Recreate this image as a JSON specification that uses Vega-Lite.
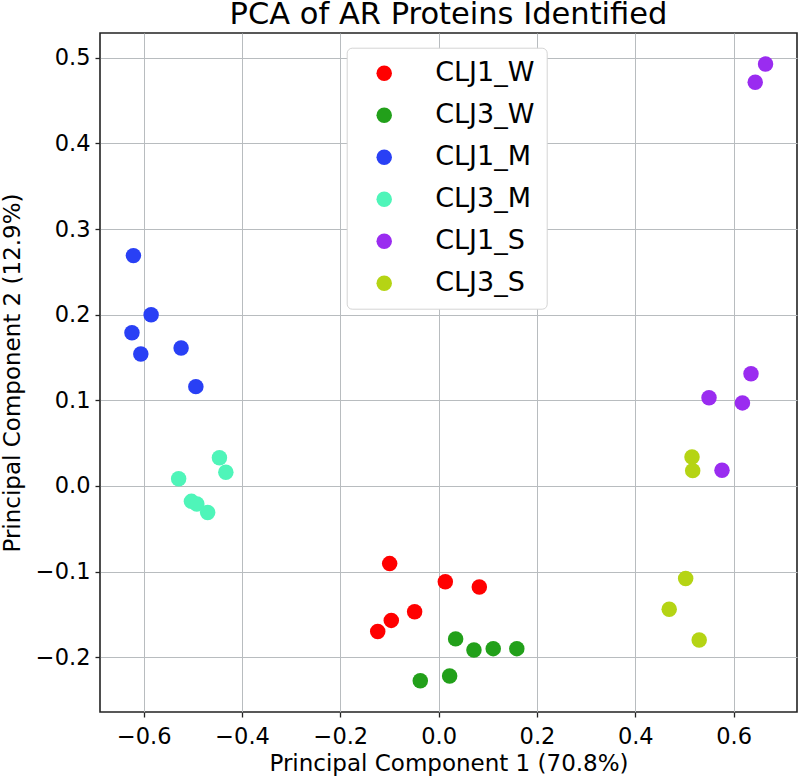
{
  "$schema": "https://vega.github.io/schema/vega-lite/v6.json",
  "width": 697,
  "height": 679,
  "autosize": {"type": "none"},
  "padding": {"left": 100, "top": 33, "right": 1, "bottom": 64},
  "background": "white",
  "title": {
    "text": "PCA of AR Proteins Identified",
    "font": "DejaVu Sans",
    "fontSize": 30.5,
    "fontWeight": "normal",
    "color": "black",
    "anchor": "middle",
    "frame": "group",
    "baseline": "bottom",
    "offset": 3,
    "dy": 30
  },
  "config": {
    "font": "DejaVu Sans",
    "view": {"stroke": "#222222", "strokeWidth": 1.6},
    "axis": {
      "labelFont": "DejaVu Sans",
      "titleFont": "DejaVu Sans",
      "labelFontSize": 22.5,
      "titleFontSize": 23,
      "titleFontWeight": "normal",
      "labelColor": "black",
      "titleColor": "black",
      "domain": false,
      "tickColor": "#222222",
      "tickSize": 5,
      "tickWidth": 1.3,
      "gridColor": "#b8bcbf",
      "gridWidth": 1,
      "gridOpacity": 1
    }
  },
  "data": {
    "values": [
      {"pc1": -0.0997, "pc2": -0.0907, "group": "CLJ1_W"},
      {"pc1": -0.0964, "pc2": -0.157, "group": "CLJ1_W"},
      {"pc1": -0.124, "pc2": -0.170, "group": "CLJ1_W"},
      {"pc1": 0.0135, "pc2": -0.112, "group": "CLJ1_W"},
      {"pc1": 0.0827, "pc2": -0.118, "group": "CLJ1_W"},
      {"pc1": -0.0489, "pc2": -0.147, "group": "CLJ1_W"},
      {"pc1": 0.0345, "pc2": -0.1786, "group": "CLJ3_W"},
      {"pc1": 0.0718, "pc2": -0.1915, "group": "CLJ3_W"},
      {"pc1": 0.111, "pc2": -0.190, "group": "CLJ3_W"},
      {"pc1": 0.159, "pc2": -0.190, "group": "CLJ3_W"},
      {"pc1": 0.0223, "pc2": -0.222, "group": "CLJ3_W"},
      {"pc1": -0.0374, "pc2": -0.2276, "group": "CLJ3_W"},
      {"pc1": -0.621, "pc2": 0.269, "group": "CLJ1_M"},
      {"pc1": -0.585, "pc2": 0.200, "group": "CLJ1_M"},
      {"pc1": -0.624, "pc2": 0.179, "group": "CLJ1_M"},
      {"pc1": -0.606, "pc2": 0.154, "group": "CLJ1_M"},
      {"pc1": -0.524, "pc2": 0.161, "group": "CLJ1_M"},
      {"pc1": -0.494, "pc2": 0.116, "group": "CLJ1_M"},
      {"pc1": -0.529, "pc2": 0.0085, "group": "CLJ3_M"},
      {"pc1": -0.446, "pc2": 0.033, "group": "CLJ3_M"},
      {"pc1": -0.433, "pc2": 0.016, "group": "CLJ3_M"},
      {"pc1": -0.503, "pc2": -0.018, "group": "CLJ3_M"},
      {"pc1": -0.492, "pc2": -0.021, "group": "CLJ3_M"},
      {"pc1": -0.470, "pc2": -0.031, "group": "CLJ3_M"},
      {"pc1": 0.665, "pc2": 0.4927, "group": "CLJ1_S"},
      {"pc1": 0.644, "pc2": 0.4716, "group": "CLJ1_S"},
      {"pc1": 0.6354, "pc2": 0.131, "group": "CLJ1_S"},
      {"pc1": 0.550, "pc2": 0.103, "group": "CLJ1_S"},
      {"pc1": 0.618, "pc2": 0.097, "group": "CLJ1_S"},
      {"pc1": 0.5764, "pc2": 0.0183, "group": "CLJ1_S"},
      {"pc1": 0.5154, "pc2": 0.0339, "group": "CLJ3_S"},
      {"pc1": 0.5168, "pc2": 0.0179, "group": "CLJ3_S"},
      {"pc1": 0.5025, "pc2": -0.108, "group": "CLJ3_S"},
      {"pc1": 0.469, "pc2": -0.144, "group": "CLJ3_S"},
      {"pc1": 0.530, "pc2": -0.180, "group": "CLJ3_S"}
    ]
  },
  "mark": {"type": "circle", "size": 240, "opacity": 1},
  "encoding": {
    "x": {
      "field": "pc1",
      "type": "quantitative",
      "title": "Principal Component 1 (70.8%)",
      "scale": {"domain": [-0.689, 0.729], "nice": false, "zero": false},
      "axis": {
        "values": [-0.6, -0.4, -0.2, 0, 0.2, 0.4, 0.6],
        "format": ".1f",
        "labelPadding": 8,
        "titleX": 348.5,
        "titleY": 58.7,
        "titleBaseline": "alphabetic",
        "titleAlign": "center"
      }
    },
    "y": {
      "field": "pc2",
      "type": "quantitative",
      "title": "Principal Component 2 (12.9%)",
      "scale": {"domain": [-0.264, 0.529], "nice": false, "zero": false},
      "axis": {
        "values": [-0.2, -0.1, 0, 0.1, 0.2, 0.3, 0.4, 0.5],
        "format": ".1f",
        "labelPadding": 5,
        "titleX": -81,
        "titleY": 339.5,
        "titleBaseline": "alphabetic",
        "titleAlign": "center",
        "titleAngle": -90
      }
    },
    "color": {
      "field": "group",
      "type": "nominal",
      "scale": {
        "domain": ["CLJ1_W", "CLJ3_W", "CLJ1_M", "CLJ3_M", "CLJ1_S", "CLJ3_S"],
        "range": ["#ff0000", "#22a01a", "#2940f5", "#4ff5b9", "#9a2cf0", "#b5d414"]
      },
      "legend": {
        "title": null,
        "orient": "none",
        "legendX": 246.7,
        "legendY": 14.7,
        "padding": 12,
        "fillColor": "white",
        "strokeColor": "#d4d4d4",
        "cornerRadius": 5,
        "symbolType": "circle",
        "symbolSize": 240,
        "symbolOpacity": 1,
        "symbolStrokeWidth": 0,
        "symbolOffset": 12,
        "labelOffset": 37.5,
        "labelFont": "DejaVu Sans",
        "labelFontSize": 27,
        "labelColor": "black",
        "rowPadding": 14
      }
    }
  }
}
